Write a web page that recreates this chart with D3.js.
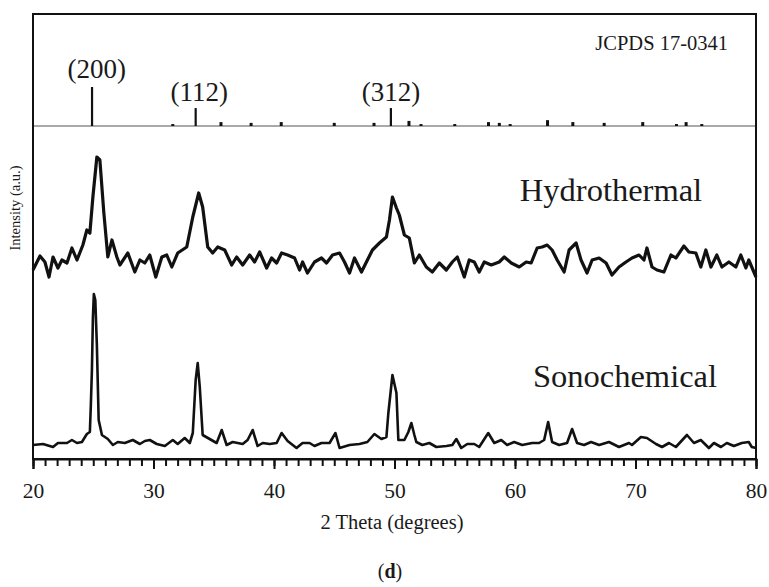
<!DOCTYPE html>
<html><head><meta charset="utf-8">
<script src="https://cdn.jsdelivr.net/npm/d3@7/dist/d3.min.js"></script>
<style>
html,body{margin:0;padding:0;background:#fff;}
svg{display:block;}
</style></head>
<body>
<svg id="chart" width="769" height="587"></svg>
<script>
// ---- data (2θ in degrees, intensity in a.u. with stacking offsets included) ----
const hydroTheta = [20.0,20.58,20.99,21.33,21.66,22.07,22.40,22.82,23.23,23.65,24.14,24.47,24.72,24.97,25.30,25.55,25.88,26.21,26.55,26.96,27.21,27.87,28.45,28.87,29.28,29.69,30.19,30.69,31.10,31.52,32.01,32.76,33.26,33.75,34.08,34.50,34.91,35.33,35.91,36.49,36.90,37.40,37.98,38.39,38.81,39.39,39.80,40.22,40.63,41.13,41.71,42.12,42.37,42.78,43.36,43.94,44.36,44.86,45.44,45.85,46.27,46.68,47.26,47.67,48.17,48.75,49.33,49.58,49.83,50.16,50.40,50.82,51.23,51.65,52.06,52.64,53.14,53.72,54.30,54.80,55.21,55.79,56.20,56.62,57.03,57.45,58.03,58.69,59.11,59.69,60.35,60.93,61.34,61.84,62.25,62.67,63.08,63.50,64.08,64.49,65.07,65.48,65.98,66.40,66.98,67.56,68.05,68.63,69.21,69.71,70.29,70.70,70.95,71.37,71.78,72.36,72.94,73.35,74.02,74.43,75.01,75.42,75.84,76.26,76.75,77.17,77.75,78.33,78.74,79.16,79.40,80.0];
const hydroPixelY = [270,256,262,277,257,268,260,263,248,260,245,230,233,197,157,160,213,257,240,257,265,253,272,260,263,255,277,257,255,267,253,247,217,193,207,247,253,247,250,265,257,265,255,262,252,268,258,263,253,255,258,270,262,273,262,258,263,255,253,262,273,258,272,262,250,243,237,220,197,208,215,235,238,263,255,267,272,263,270,262,257,277,260,262,272,262,265,262,257,263,267,262,263,248,247,245,250,260,272,250,243,260,273,260,258,263,275,267,262,258,255,260,248,267,270,272,255,258,246,252,253,267,250,267,255,267,262,267,255,268,260,277];
const hydroIntensity = hydroPixelY.map(v => 459 - v);

const sonoTheta = [20.0,20.83,21.66,22.07,22.82,23.23,23.65,24.06,24.47,24.72,24.80,24.89,24.97,25.05,25.17,25.30,25.45,25.72,26.21,26.63,27.04,27.62,28.28,28.87,29.28,29.69,30.27,30.94,31.60,32.01,32.59,33.01,33.26,33.50,33.67,33.84,34.08,34.66,35.24,35.66,36.07,36.57,37.40,37.81,38.23,38.64,39.06,39.64,40.22,40.63,41.13,41.87,42.37,42.95,43.36,43.94,44.61,45.10,45.44,46.27,47.09,47.75,48.33,48.91,49.33,49.49,49.83,50.16,50.32,50.82,51.15,51.40,51.65,51.81,52.31,52.89,53.47,54.30,54.80,55.13,55.54,56.04,56.62,57.03,57.78,58.28,58.86,59.35,59.93,60.60,61.42,62.00,62.42,62.75,63.08,63.66,64.32,64.74,65.15,65.73,66.31,66.98,67.80,68.63,69.46,69.71,70.45,70.95,71.70,72.20,72.78,73.35,74.27,74.85,75.42,76.09,76.51,77.09,77.58,78.16,78.82,79.40,79.65,80.0];
const sonoPixelY = [445,444,447,443,443,440,443,442,434,432,405,370,318,294,300,345,420,435,439,445,442,443,440,444,441,440,444,446,440,444,438,443,433,380,363,387,435,439,443,430,445,442,444,440,430,446,443,444,443,433,441,448,443,443,446,443,443,433,448,445,444,442,434,439,437,413,375,393,440,440,432,423,435,442,445,443,447,446,445,439,448,444,444,447,433,443,440,445,442,445,443,443,440,422,442,445,443,429,443,445,442,445,442,447,443,445,437,438,444,447,443,447,435,443,440,448,443,447,443,446,443,442,447,448];
const sonoIntensity = sonoPixelY.map(v => 459 - v);

// JCPDS 17-0341 reference lines
const refTheta = [24.9,31.6,33.5,35.6,38.1,40.6,45.0,48.3,49.7,51.2,52.2,55.0,57.8,58.7,59.6,62.7,64.8,67.4,70.6,73.4,74.2,75.5];
const refIntensity = [100,5,46,10,8,10,8,8,46,13,5,5,10,8,5,15,10,8,10,5,10,5];
const refLabels = ["(200)","(112)","(312)"];
const refLabelTheta = [25.3,33.8,49.7];

const xTicksMajor = [20,30,40,50,60,70,80];
const xTicksMinor = d3.range(20,81,1);
const seriesNames = ["Hydrothermal","Sonochemical"];
const xTitle = "2 Theta (degrees)";
const yTitle = "Intensity (a.u.)";
const refTitle = "JCPDS 17-0341";
const panelLabel = "d";

// ---- layout ----
const SERIF = "'Liberation Serif','Times New Roman',Times,serif";
const INK = "#1a1a1a";
const svg = d3.select("#chart");
const L = 33, R = 756, T = 14, B = 459;
const x = d3.scaleLinear().domain([20,80]).range([L,R]);
const y = d3.scaleLinear().domain([0,445]).range([B,T]);
const refBase = 126;
const refScale = d3.scaleLinear().domain([0,100]).range([0,39]);

function txt(sel){ return sel.style("font-family",SERIF).style("fill",INK); }

// reference baseline
svg.append("line").attr("x1",L).attr("x2",R).attr("y1",refBase).attr("y2",refBase)
  .attr("stroke","#555").attr("stroke-width",1.2);
svg.selectAll(".ref").data(refTheta.map((t,i)=>({t,v:refIntensity[i]}))).enter()
  .append("line").attr("class","ref")
  .attr("x1",d=>x(d.t)).attr("x2",d=>x(d.t))
  .attr("y1",refBase).attr("y2",d=>refBase-refScale(d.v))
  .attr("stroke","#111").attr("stroke-width",d=>d.v>40?2.2:3);

const labelBase = [78,101,101];
txt(svg.selectAll(".hkl").data(refLabels).enter().append("text")
  .attr("x",(d,i)=>x(refLabelTheta[i])).attr("y",(d,i)=>labelBase[i])
  .attr("text-anchor","middle").style("font-size","27px").text(d=>d));

txt(svg.append("text").attr("x",728).attr("y",50).attr("text-anchor","end")
  .style("font-size","20.5px").text(refTitle));

// curves
const line = d3.line().x(d=>x(d[0])).y(d=>y(d[1]));
svg.append("path").datum(hydroTheta.map((t,i)=>[t,hydroIntensity[i]]))
  .attr("d",line).attr("fill","none").attr("stroke","#111").attr("stroke-width",3.2)
  .attr("stroke-linejoin","round");
svg.append("path").datum(sonoTheta.map((t,i)=>[t,sonoIntensity[i]]))
  .attr("d",line).attr("fill","none").attr("stroke","#111").attr("stroke-width",2.6)
  .attr("stroke-linejoin","round");

txt(svg.append("text").attr("x",611).attr("y",201).attr("text-anchor","middle")
  .style("font-size","32.5px").text(seriesNames[0]));
txt(svg.append("text").attr("x",625).attr("y",387).attr("text-anchor","middle")
  .style("font-size","32.5px").text(seriesNames[1]));

// frame
svg.append("rect").attr("x",L).attr("y",T).attr("width",R-L).attr("height",B-T)
  .attr("fill","none").attr("stroke","#111").attr("stroke-width",2);

// axes
const gMinor = svg.append("g").attr("transform",`translate(0,${B})`)
  .call(d3.axisBottom(x).tickValues(xTicksMinor).tickSize(7).tickFormat(""));
gMinor.select(".domain").remove();
gMinor.selectAll("line").attr("stroke","#111").attr("stroke-width",2);
const gMajor = svg.append("g").attr("transform",`translate(0,${B})`)
  .call(d3.axisBottom(x).tickValues(xTicksMajor).tickSize(10).tickFormat(d3.format("d")));
gMajor.attr("font-family",null).attr("font-size",null);
gMajor.select(".domain").attr("stroke","#111").attr("stroke-width",2);
gMajor.selectAll("line").attr("stroke","#111").attr("stroke-width",2);
txt(gMajor.selectAll("text").attr("y",39).attr("dy",0).attr("fill",null)
  .style("font-size","21.5px"));

txt(svg.append("text").attr("x",392).attr("y",529).attr("text-anchor","middle")
  .style("font-size","20.5px").text(xTitle));
txt(svg.append("text").attr("transform","translate(20,208) rotate(-90)")
  .attr("text-anchor","middle").style("font-size","14.5px").text(yTitle));

const pl = txt(svg.append("text").attr("x",390).attr("y",578).attr("text-anchor","middle").style("font-size","20px"));
pl.append("tspan").text("(");
pl.append("tspan").style("font-weight","bold").text(panelLabel);
pl.append("tspan").text(")");
</script>
</body></html>
